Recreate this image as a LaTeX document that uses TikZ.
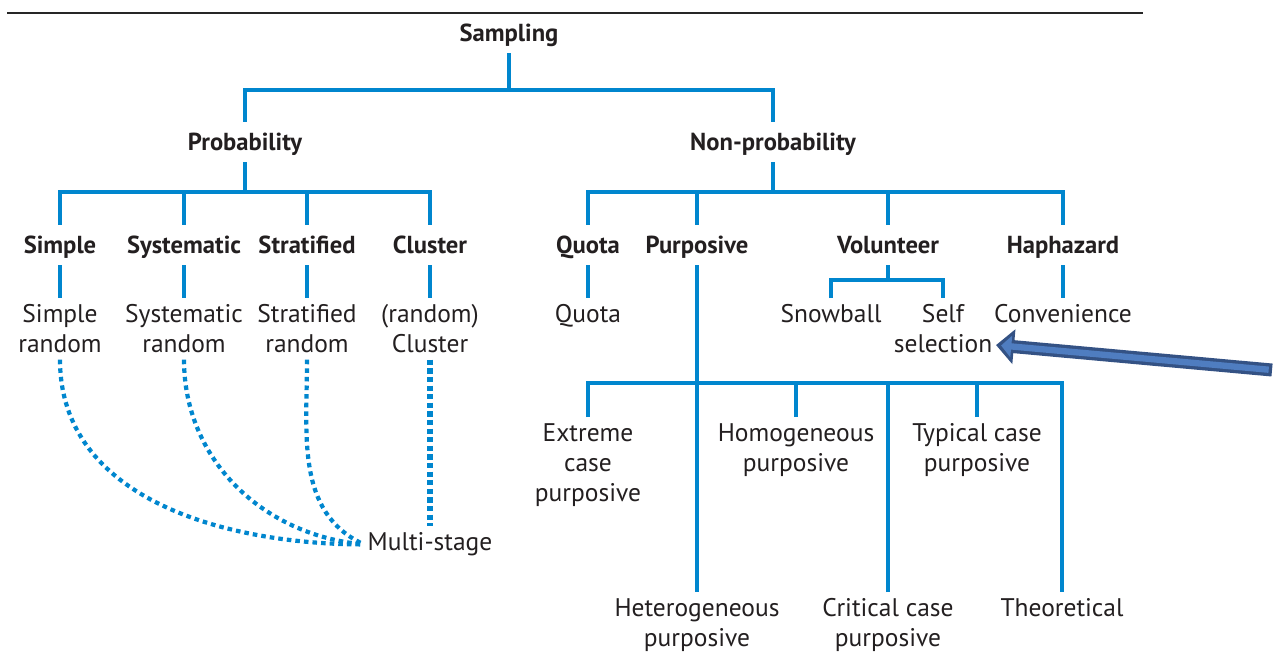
\documentclass[tikz,border=0pt]{standalone}
\usepackage{fontspec}
\setmainfont{PT Sans}
\usetikzlibrary{arrows.meta}

\definecolor{treeBlue}{RGB}{0,134,206}
\definecolor{inkGray}{RGB}{35,31,32}
\definecolor{arrowFill}{RGB}{79,125,192}
\definecolor{arrowLine}{RGB}{52,82,132}

\tikzstyle{headText} = [font=\fontsize{14}{17}\selectfont\bfseries, text=inkGray, inner sep=0pt, text height=12pt, text depth=2.2pt, minimum height=22.7pt]
\tikzstyle{leafText} = [font=\fontsize{14.5}{17}\selectfont, text=inkGray, align=center, inner xsep=2pt, inner ysep=3.6pt, anchor=north]
\tikzstyle{branch} = [draw=treeBlue, line width=2.8pt]
\tikzstyle{dottedBranch} = [draw=treeBlue, line width=2.4pt, dash pattern=on 2.6pt off 2.3pt]
\tikzstyle{clusterBranch} = [draw=treeBlue, line width=3.2pt, dash pattern=on 3pt off 1.9pt]
\tikzstyle{bigArrow} = [color=arrowLine, line width=7.4pt, -{Triangle[length=10.2pt,width=19.3pt]}]
\tikzstyle{bigArrowInner} = [color=arrowFill, line width=3.6pt, -{Triangle[length=5.8pt,width=12pt]}, shorten >=2.9pt, shorten <=1.9pt]

\begin{document}
\begin{tikzpicture}[x=0.02cm, y=-0.02cm]
\useasboundingbox (0,0) rectangle (1283,657);

\draw [black!85, line width=1.1pt] (7,13) -- (1143,13);

\node (sampling) [headText] at (509,33) {Sampling};
\node (probability) [headText] at (245,142) {Probability};
\node (nonProbability) [headText] at (773,142) {Non-probability};
\node (simple) [headText] at (60,245) {Simple};
\node (systematic) [headText] at (184,245) {Systematic};
\node (stratified) [headText] at (307,245) {Stratified};
\node (cluster) [headText] at (430,245) {Cluster};
\node (quota) [headText] at (588,245) {Quota};
\node (purposive) [headText] at (697,245) {Purposive};
\node (volunteer) [headText] at (888,245) {Volunteer};
\node (haphazard) [headText] at (1063,245) {Haphazard};

\node (simpleRandom) [leafText] at (60,298) {Simple\\random};
\node (systematicRandom) [leafText] at (184,298) {Systematic\\random};
\node (stratifiedRandom) [leafText] at (307,298) {Stratified\\random};
\node (clusterRandom) [leafText] at (430,298) {(random)\\Cluster};
\node (multiStage) [leafText] at (430,526) {Multi-stage};
\node (quotaLeaf) [leafText] at (588,298) {Quota};
\node (snowball) [leafText] at (831,298) {Snowball};
\node (selfSelection) [leafText] at (943,298) {Self\\selection};
\node (convenience) [leafText] at (1063,298) {Convenience};
\node (extremeCase) [leafText] at (588,417) {Extreme\\case\\purposive};
\node (homogeneous) [leafText] at (796,417) {Homogeneous\\purposive};
\node (typicalCase) [leafText] at (977,417) {Typical case\\purposive};
\node (heterogeneous) [leafText] at (697,592) {Heterogeneous\\purposive};
\node (criticalCase) [leafText] at (888,592) {Critical case\\purposive};
\node (theoretical) [leafText] at (1062,592) {Theoretical};

\coordinate (samplingCombine) at (509,90);
\coordinate (probabilityCombine) at (245,192);
\coordinate (nonProbCombine) at (773,192);
\coordinate (volunteerCombine) at (888,280);
\coordinate (purposiveCombine) at (697,383);
\coordinate (arrowAnchor) at (1272,370);

\draw [branch] (sampling) -- (samplingCombine);
\draw [branch] (probability.north) |- (samplingCombine) -| (nonProbability.north);
\draw [branch] (probability) -- (probabilityCombine);
\draw [branch] (simple.north) |- (probabilityCombine) -| (cluster.north);
\draw [branch] (systematic.north) |- (probabilityCombine);
\draw [branch] (stratified.north) |- (probabilityCombine);
\draw [branch] (simple) -- (simpleRandom);
\draw [branch] (systematic) -- (systematicRandom);
\draw [branch] (stratified) -- (stratifiedRandom);
\draw [branch] (cluster) -- (clusterRandom);
\draw [dottedBranch] (simpleRandom.south) to[out=-90,in=180] (multiStage.west);
\draw [dottedBranch] (systematicRandom.south) to[out=-90,in=175] (multiStage.west);
\draw [dottedBranch] (stratifiedRandom.south) to[out=-90,in=155] (multiStage.west);
\draw [clusterBranch] (clusterRandom) -- (multiStage);

\draw [branch] (nonProbability) -- (nonProbCombine);
\draw [branch] (quota.north) |- (nonProbCombine) -| (haphazard.north);
\draw [branch] (purposive.north) |- (nonProbCombine);
\draw [branch] (volunteer.north) |- (nonProbCombine);
\draw [branch] (quota) -- (quotaLeaf);
\draw [branch] (haphazard) -- (convenience);
\draw [branch] (volunteer) -- (volunteerCombine);
\draw [branch] (snowball.north) |- (volunteerCombine) -| (selfSelection.north);
\draw [branch] (purposive) -- (heterogeneous);
\draw [branch] (extremeCase.north) |- (purposiveCombine) -| (theoretical.north);
\draw [branch] (homogeneous.north) |- (purposiveCombine);
\draw [branch] (criticalCase.north) |- (purposiveCombine);
\draw [branch] (typicalCase.north) |- (purposiveCombine);

\draw [bigArrow] (arrowAnchor) -- (selfSelection.-17);
\draw [bigArrowInner] (arrowAnchor) -- (selfSelection.-17);
\end{tikzpicture}
\end{document}
